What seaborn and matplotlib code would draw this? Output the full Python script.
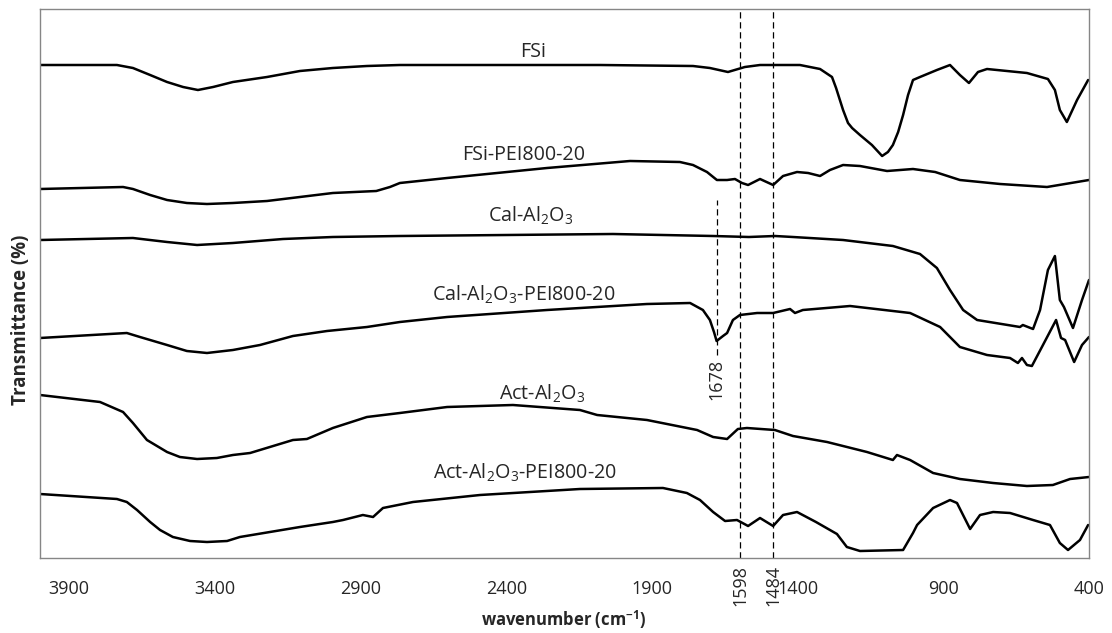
import matplotlib
matplotlib.use("Agg")
import matplotlib.pyplot as plt
import seaborn as sns
import pandas as pd

# FTIR spectra, vertically offset (transmittance in arbitrary units)
fsi_wn = [4000, 3736, 3681, 3622, 3564, 3509, 3458, 3406, 3338, 3221, 3108, 2995, 2878, 2765,
          2421, 2078, 1759, 1701, 1639, 1581, 1529, 1392, 1323, 1282, 1268, 1244, 1227, 1213,
          1186, 1145, 1110, 1090, 1073, 1055, 1038, 1021, 1004, 980, 922, 877, 843, 812, 781,
          750, 613, 541, 517, 500, 476, 441, 403]
fsi_t = [493, 493, 490, 483, 476, 471, 468, 471, 476, 481, 487, 490, 492, 493,
         493, 493, 492, 490, 486, 491, 493, 493, 489, 481, 470, 448, 435, 430,
         423, 413, 402, 406, 413, 426, 443, 463, 478, 481, 488, 493, 483, 475, 486,
         489, 485, 479, 468, 448, 436, 458, 478]

fsipei_wn = [4000, 3715, 3681, 3622, 3564, 3496, 3427, 3338, 3221, 3108, 2995, 2846, 2799, 2765,
             2603, 2260, 1975, 1804, 1759, 1711, 1677, 1642, 1615, 1591, 1570, 1529, 1484,
             1450, 1402, 1364, 1323, 1289, 1244, 1186, 1093, 1004, 928, 843, 705, 544, 400]
fsipei_t = [369, 371, 369, 363, 358, 355, 354, 355, 357, 361, 365, 367, 371, 375,
            380, 390, 397, 396, 393, 386, 378, 378, 379, 375, 373, 379, 373,
            382, 386, 385, 382, 388, 393, 392, 387, 389, 386, 378, 374, 371, 378]

cal_wn = [4000, 3681, 3564, 3461, 3338, 3166, 2995, 2765, 2034, 1690, 1567, 1478, 1416, 1244,
          1073, 980, 922, 877, 832, 784, 637, 627, 592, 568, 541, 517, 500, 486, 455, 424, 400]
cal_t = [318, 320, 316, 313, 315, 319, 321, 322, 324, 322, 321, 322, 321, 318,
         312, 304, 290, 268, 248, 238, 231, 233, 229, 248, 288, 302, 258, 251, 230, 258, 278]

calpei_wn = [4000, 3702, 3657, 3564, 3496, 3427, 3338, 3245, 3132, 3015, 2878, 2765, 2603, 2260,
             1917, 1769, 1725, 1701, 1687, 1678, 1656, 1642, 1622, 1598, 1539, 1484, 1426,
             1409, 1382, 1220, 1014, 911, 843, 750, 671, 644, 630, 613, 596, 558, 513, 496,
             482, 451, 424, 400]
calpei_t = [220, 225, 221, 213, 207, 205, 208, 213, 222, 227, 231, 236, 241, 248,
            254, 255, 248, 238, 226, 217, 222, 225, 238, 243, 245, 245, 249,
            245, 248, 252, 245, 231, 211, 203, 200, 195, 200, 193, 192, 213, 238, 220,
            218, 196, 213, 221]

act_wn = [4000, 3794, 3715, 3681, 3633, 3564, 3520, 3461, 3393, 3338, 3279, 3132, 3084, 2995,
          2878, 2765, 2603, 2377, 2147, 2088, 1917, 1745, 1690, 1642, 1605, 1574, 1478, 1416,
          1299, 1162, 1073, 1059, 1014, 935, 843, 729, 613, 524, 465, 400]
act_t = [163, 156, 146, 135, 118, 106, 101, 99, 100, 103, 105, 118, 119, 130,
         141, 145, 151, 153, 148, 143, 138, 128, 121, 119, 129, 130, 128, 122,
         116, 106, 98, 103, 98, 85, 79, 75, 72, 73, 79, 81]

actpei_wn = [4000, 3736, 3702, 3667, 3622, 3588, 3544, 3485, 3427, 3358, 3314, 3108, 2995, 2960,
             2892, 2857, 2823, 2720, 2490, 2147, 1862, 1780, 1735, 1690, 1649, 1608, 1570,
             1529, 1484, 1450, 1402, 1337, 1289, 1265, 1231, 1186, 1038, 1004, 990, 935, 877,
             853, 808, 774, 729, 671, 592, 534, 500, 472, 431, 403]
actpei_t = [64, 59, 56, 48, 36, 28, 21, 17, 16, 17, 21, 31, 36, 38,
            43, 41, 50, 56, 63, 69, 70, 65, 58, 46, 37, 38, 32,
            40, 32, 43, 46, 36, 28, 24, 11, 7, 8, 25, 33, 50, 58,
            55, 29, 43, 46, 45, 38, 33, 15, 8, 18, 33]

samples = ["FSi", "FSi-PEI800-20", "Cal-Al2O3", "Cal-Al2O3-PEI800-20", "Act-Al2O3",
           "Act-Al2O3-PEI800-20"]
labels = ["FSi", "FSi-PEI800-20", "Cal-Al$_2$O$_3$", "Cal-Al$_2$O$_3$-PEI800-20",
          "Act-Al$_2$O$_3$", "Act-Al$_2$O$_3$-PEI800-20"]
label_wn = [2308, 2339, 2315, 2339, 2277, 2336]
label_t = [506, 403, 342, 263, 164, 85]

marked_peaks = [1598, 1484]
co_peak = 1678
xticks = [3900, 3400, 2900, 2400, 1900, 1400, 900, 400]

series = [(fsi_wn, fsi_t), (fsipei_wn, fsipei_t), (cal_wn, cal_t), (calpei_wn, calpei_t),
          (act_wn, act_t), (actpei_wn, actpei_t)]
frames = []
for name, (wn, t) in zip(samples, series):
    frames.append(pd.DataFrame({"wavenumber": wn, "T": t, "sample": name}))
df = pd.concat(frames, ignore_index=True)

sns.set_theme(style="white")
plt.rcParams["font.family"] = ["Open Sans", "DejaVu Sans"]
plt.rcParams["mathtext.fontset"] = "custom"
plt.rcParams["mathtext.rm"] = "Open Sans"
plt.rcParams["mathtext.it"] = "Open Sans:italic"
plt.rcParams["mathtext.bf"] = "Open Sans:bold"

text_color = "#262626"
fig = plt.figure(figsize=(11.12, 6.33), dpi=100)
ax = fig.add_axes([40 / 1112, 1 - 558 / 633, 1049 / 1112, 549 / 633])

sns.lineplot(data=df, x="wavenumber", y="T", hue="sample", units="sample", estimator=None,
             sort=False, palette=["black"] * len(samples), linewidth=1.8, legend=False, ax=ax)
for line in ax.lines:
    line.set_solid_joinstyle("round")

for wn in marked_peaks:
    ax.axvline(wn, color="black", linewidth=0.9, dashes=(5, 3))
    ax.annotate(str(wn), xy=(wn, 0), xycoords=("data", "axes fraction"), xytext=(0, -5),
                textcoords="offset points", rotation=90, ha="center", va="top",
                fontsize=13, color=text_color)
ax.plot([co_peak, co_peak], [203, 358], color="black", linewidth=0.9, dashes=(5, 3))
ax.text(co_peak, 179, str(co_peak), rotation=90, ha="center", va="center", fontsize=13,
        color=text_color)

for lab, x, y in zip(labels, label_wn, label_t):
    ax.text(x, y, lab, ha="center", va="center", fontsize=14.2, color=text_color)

ax.set_xlim(4000, 400)
ax.set_ylim(0, 549)
ax.set_xticks(xticks)
ax.set_xticklabels([str(v) for v in xticks])
ax.set_yticks([])
ax.tick_params(axis="x", length=0, pad=16, labelsize=13, labelcolor=text_color)
ax.set_xlabel("")
ax.set_ylabel("")
for s in ax.spines.values():
    s.set_visible(True)
    s.set_color("#868686")
    s.set_linewidth(1.0)

fig.text(564 / 1112, 1 - 620 / 633, "wavenumber (cm$^{\\mathbf{-1}}$)", ha="center",
         va="center", fontsize=12, fontweight="bold", color=text_color)
fig.text(21 / 1112, 1 - 320 / 633, "Transmittance (%)", rotation=90, ha="center",
         va="center", fontsize=13.5, fontweight="bold", color=text_color)

fig.savefig("out.png", dpi=100, facecolor="white")
